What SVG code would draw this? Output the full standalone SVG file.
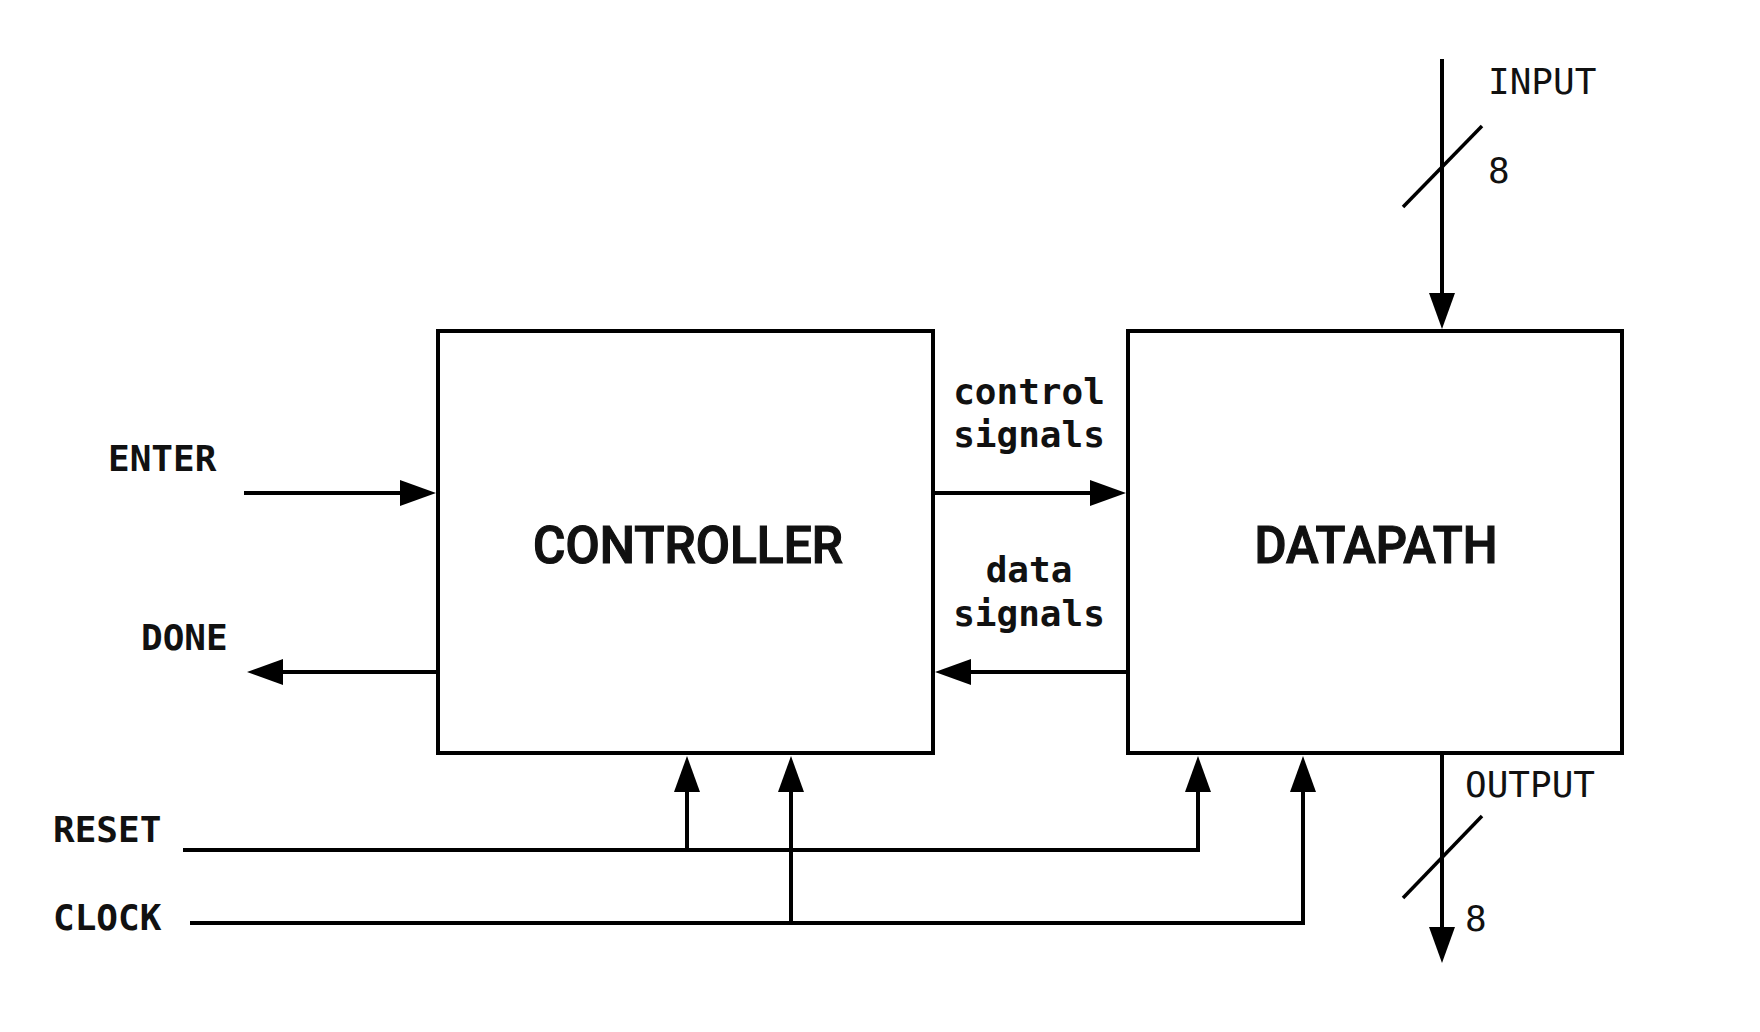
<svg xmlns="http://www.w3.org/2000/svg" width="1760" height="1032" viewBox="0 0 1760 1032">
<style>
.box{fill:#fff;stroke:#000;stroke-width:4}
.title{font-family:Roboto,"Liberation Sans",sans-serif;font-size:52px;font-weight:500;fill:#111;stroke:#111;stroke-width:1.2;text-anchor:middle}
.lbl{font-family:"DejaVu Sans Mono","Liberation Mono",monospace;font-size:36px;font-weight:bold;fill:#111}
.lbl2{font-family:"DejaVu Sans Mono","Liberation Mono",monospace;font-size:36px;font-weight:normal;fill:#111}
.mid{text-anchor:middle}
.wire{fill:none;stroke:#000;stroke-width:4}
.arr{marker-end:url(#ah)}
.slash{stroke:#000;stroke-width:3.5;fill:none}
</style>
<defs>
<marker id="ah" viewBox="0 0 36 26" refX="16" refY="13" markerWidth="36" markerHeight="26" markerUnits="userSpaceOnUse" orient="auto">
<path d="M0,0 L36,13 L0,26 z" fill="#000"/>
</marker>
</defs>
<rect width="1760" height="1032" fill="#fff"/>
<g id="controller">
<rect class="box" x="438" y="331" width="495" height="422"/>
<text class="title" x="688" y="563" textLength="310" lengthAdjust="spacingAndGlyphs">CONTROLLER</text>
</g>
<g id="datapath">
<rect class="box" x="1128" y="331" width="494" height="422"/>
<text class="title" x="1376" y="563" textLength="243" lengthAdjust="spacingAndGlyphs">DATAPATH</text>
</g>
<g id="connectors">
<line class="wire arr" x1="244" y1="493" x2="416" y2="493"/>
<line class="wire arr" x1="438" y1="672" x2="267" y2="672"/>
<line class="wire arr" x1="933" y1="493" x2="1106" y2="493"/>
<line class="wire arr" x1="1128" y1="672" x2="955" y2="672"/>
<line class="wire arr" x1="1442" y1="59" x2="1442" y2="309"/>
<line class="wire arr" x1="1442" y1="753" x2="1442" y2="943"/>
<polyline class="wire arr" points="183,850 1198,850 1198,776"/>
<line class="wire arr" x1="687" y1="850" x2="687" y2="776"/>
<polyline class="wire arr" points="190,923 1303,923 1303,776"/>
<line class="wire arr" x1="791" y1="923" x2="791" y2="776"/>
<line class="slash" x1="1403" y1="207" x2="1482" y2="126"/>
<line class="slash" x1="1403" y1="898" x2="1482" y2="816"/>
</g>
<g id="labels">
<text class="lbl" x="108" y="471">ENTER</text>
<text class="lbl" x="141" y="650">DONE</text>
<text class="lbl" x="53" y="842">RESET</text>
<text class="lbl" x="53" y="930">CLOCK</text>
<text class="lbl2" x="1488" y="94">INPUT</text>
<text class="lbl2" x="1488" y="183">8</text>
<text class="lbl2" x="1465" y="797">OUTPUT</text>
<text class="lbl2" x="1465" y="931">8</text>
<text class="lbl mid" x="1029" y="404">control</text>
<text class="lbl mid" x="1029" y="447">signals</text>
<text class="lbl mid" x="1029" y="582">data</text>
<text class="lbl mid" x="1029" y="626">signals</text>
</g>
</svg>
